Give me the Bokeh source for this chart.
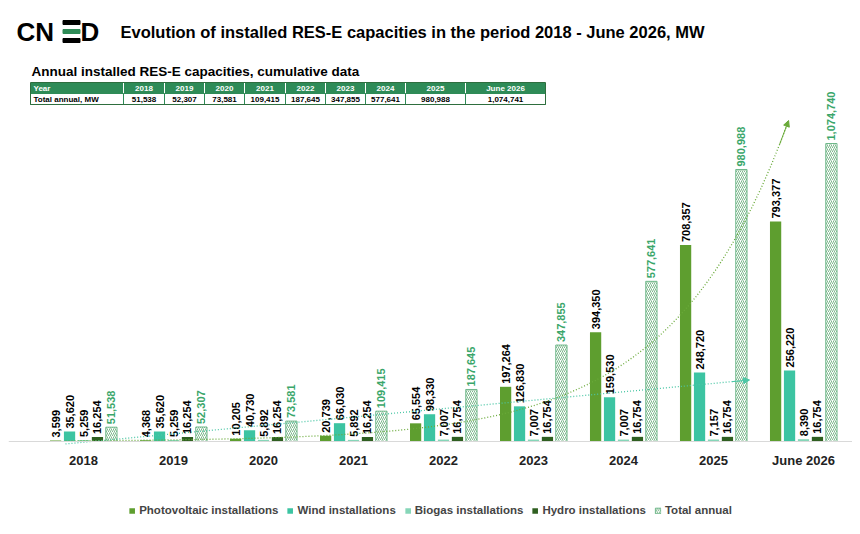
import numpy as np
from bokeh.plotting import figure
from bokeh.models import Legend, LegendItem, Arrow, NormalHead, Range1d, Span
from bokeh.core.properties import value
from bokeh.embed import file_html
from bokeh.resources import INLINE

years = ["2018", "2019", "2020", "2021", "2022", "2023", "2024", "2025", "June 2026"]
pv = [3599, 4368, 10205, 20739, 65554, 197264, 394350, 708357, 793377]
wind = [35620, 35620, 40730, 66030, 98330, 126830, 159530, 248720, 256220]
biogas = [5259, 5259, 5892, 5892, 7007, 7007, 7007, 7157, 8390]
hydro = [16254, 16254, 16254, 16254, 16754, 16754, 16754, 16754, 16754]
total = [51538, 52307, 73581, 109415, 187645, 347855, 577641, 980988, 1074740]
table_total = ["51,538", "52,307", "73,581", "109,415", "187,645", "347,855", "577,641", "980,988", "1,074,741"]

FONT = "Liberation Sans"
W, H = 844, 510
BASE = 433            # baseline, px from top of frame
UPX = 1074740 / 298   # value units per pixel

p = figure(frame_width=W, frame_height=H,
           x_range=Range1d(-0.5 - 30 / 90, 8.5 + 4 / 90),
           y_range=Range1d(-(H - BASE) * UPX, BASE * UPX),
           output_backend="svg", toolbar_location=None,
           min_border_left=8, min_border_top=8, min_border_right=0, min_border_bottom=0)
p.axis.visible = False
p.grid.visible = False
p.outline_line_color = None
p.extra_x_ranges = {"px": Range1d(0, W)}
p.extra_y_ranges = {"px": Range1d(H, 0)}
kw = dict(x_range_name="px", y_range_name="px")

# ---------- header ----------
p.text([8], [23], text=["CN"], text_font=value(FONT), text_font_style="bold",
       text_font_size="26px", text_baseline="middle", text_color="black", **kw)
p.rect([63, 63, 63], [14, 23, 32], width=17, height=4, color=["black", "#2e8b57", "black"], **kw)
p.text([72], [23], text=["D"], text_font=value(FONT), text_font_style="bold",
       text_font_size="26px", text_baseline="middle", text_color="black", **kw)
p.text([112], [23], text=["Evolution of installed RES-E capacities in the period 2018 - June 2026, MW"],
       text_font=value(FONT), text_font_style="bold", text_font_size="16.5px", text_baseline="middle", **kw)
p.text([23], [63], text=["Annual installed RES-E capacities, cumulative data"],
       text_font=value(FONT), text_font_style="bold", text_font_size="13.5px", text_baseline="middle", **kw)
bounds = [22, 115, 156, 196, 236, 277, 317, 357, 397, 457, 537]
lefts = bounds[:-1]; rights = bounds[1:]
p.quad(left=lefts, right=rights, top=[74]*10, bottom=[85]*10, fill_color="#2e8b57", line_color="white", **kw)
p.quad(left=lefts, right=rights, top=[85]*10, bottom=[96]*10, fill_color="white", line_color="#2e8b57", **kw)
p.quad(left=[22], right=[537], top=[74], bottom=[96], fill_color=None, line_color="#2e6e3e", **kw)
cx = [(a + b) / 2 for a, b in zip(lefts[1:], rights[1:])]
p.text([25], [79.5], text=["Year"], text_font=value(FONT), text_font_style="bold", text_font_size="8px",
       text_color="white", text_baseline="middle", **kw)
p.text([25], [90.5], text=["Total annual, MW"], text_font=value(FONT), text_font_style="bold", text_font_size="8px",
       text_color="black", text_baseline="middle", **kw)
p.text(cx, [79.5]*9, text=years, text_font=value(FONT), text_font_style="bold", text_font_size="8px",
       text_color="white", text_baseline="middle", text_align="center", **kw)
p.text(cx, [90.5]*9, text=table_total, text_font=value(FONT), text_font_style="bold", text_font_size="8px",
       text_color="black", text_baseline="middle", text_align="center", **kw)

# ---------- chart ----------
x = np.arange(9)
p.add_layout(Span(location=0, dimension="width", line_color="#d9d9d9", line_width=1))
p.text(x, [-19 * UPX] * 9, text=years, text_font=value(FONT), text_font_style="bold",
       text_font_size="13px", text_align="center", text_baseline="middle", text_color="#222222")

off = 0.155
bw = 0.125
series = [(pv, "#5e9e2f", "Photovoltaic installations"), (wind, "#3cc4a2", "Wind installations"),
          (biogas, "#86d6b8", "Biogas installations"), (hydro, "#2f5f20", "Hydro installations")]
items = []
for k, (vals, col, name) in enumerate(series):
    xs = x + (k - 2) * off
    r = p.vbar(x=xs, top=vals, width=bw, fill_color=col, line_color=None)
    items.append(LegendItem(label=name, renderers=[r]))
    p.text(xs, np.array(vals) + 3 * UPX, text=[f"{v:,}" for v in vals], angle=np.pi / 2,
           text_font=value(FONT), text_font_style="bold", text_font_size="11px",
           text_baseline="middle", text_align="left", text_color="black")
xs = x + 2 * off
r = p.vbar(x=xs, top=total, width=bw, fill_color="white", line_color="#6fb88a",
           hatch_pattern="right_diagonal_line", hatch_color="#5aa56e", hatch_scale=4, hatch_weight=0.8)
items.append(LegendItem(label="Total annual", renderers=[r]))
p.text(xs, np.array(total) + 3 * UPX, text=[f"{v:,}" for v in total], angle=np.pi / 2,
       text_font=value(FONT), text_font_style="bold", text_font_size="11px",
       text_baseline="middle", text_align="left", text_color="#3aa66a")

# trend lines (fitted from the data)
cpv = np.polyfit(x, np.log(pv), 1)
xend = (np.log(321 * UPX) - cpv[1]) / cpv[0]
tx = np.linspace(-0.2, xend, 80)
ty = np.exp(np.polyval(cpv, tx))
p.line(tx, ty, line_color="#6aaa3a", line_dash="1 2", line_width=1.3)
p.add_layout(Arrow(end=NormalHead(size=6, fill_color="#6aaa3a", line_color="#6aaa3a"),
                   x_start=tx[-2], y_start=ty[-2], x_end=tx[-1], y_end=ty[-1], line_color="#6aaa3a"))
cw = np.polyfit(x, wind, 1)
wx = np.linspace(-0.2, 7.4, 40)
wy = np.polyval(cw, wx)
p.line(wx, wy, line_color="#4cc7a6", line_dash="1 2", line_width=1.3)
p.add_layout(Arrow(end=NormalHead(size=6, fill_color="#4cc7a6", line_color="#4cc7a6"),
                   x_start=wx[-2], y_start=wy[-2], x_end=wx[-1], y_end=wy[-1], line_color="#4cc7a6"))

leg = Legend(items=items, orientation="horizontal", location="bottom_center",
             label_text_font=FONT, label_text_font_style="bold", label_text_font_size="11.5px",
             glyph_width=7, glyph_height=7, spacing=8, label_standoff=4, border_line_color=None,
             background_fill_alpha=0, padding=2, margin=2)
p.add_layout(leg)

open("out.html", "w").write(file_html(p, INLINE))
